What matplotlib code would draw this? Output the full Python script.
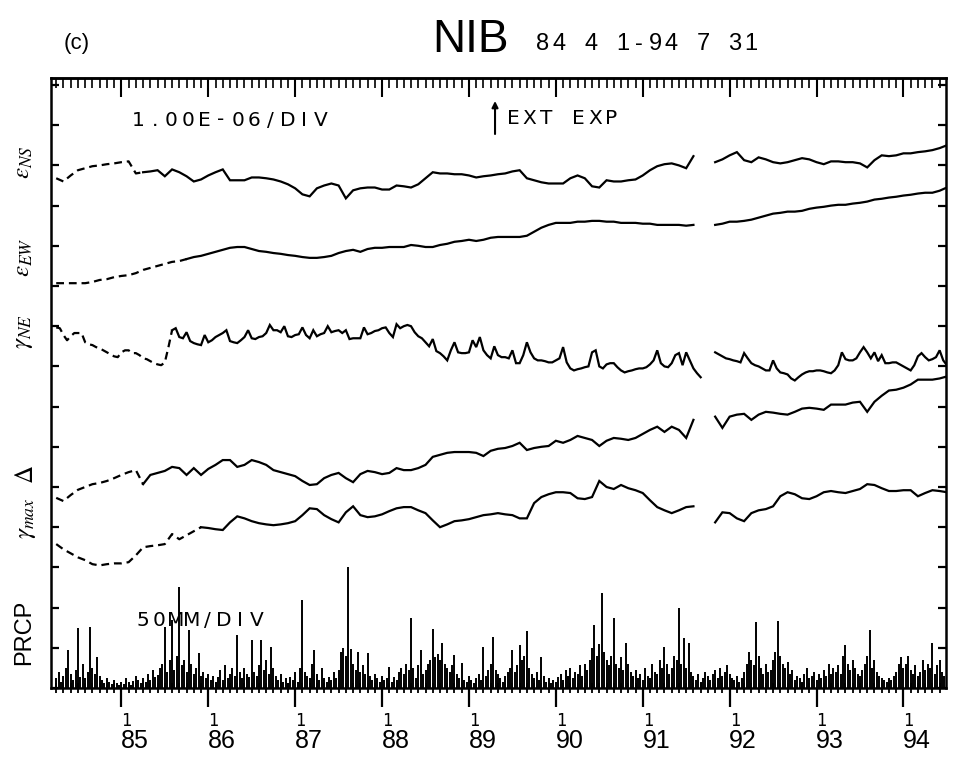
import numpy as np
import matplotlib
matplotlib.use("Agg")
import matplotlib.pyplot as plt
from matplotlib.ticker import MultipleLocator, FixedLocator

plt.rcParams['mathtext.fontset'] = 'stix'
plt.rcParams['font.family'] = ['DejaVu Sans']

# ---------------------------------------------------------------------------
# Station NIB, 1 Apr 1984 - 31 Jul 1994.  Strain samples (1e-6), each series
# relative to its own reference level; NaN = recording gap.
# ---------------------------------------------------------------------------
T0 = 84.25  # 1 April 1984 in decimal years (19xx)

# monthly samples
eps_ns = [
    -0.32, -0.40, -0.25, -0.12, -0.07, -0.02, 0.00, 0.03, 0.05, 0.08, 0.10, -0.20,
    -0.17, -0.15, -0.12, -0.27, -0.10, -0.17, -0.27, -0.40, -0.35, -0.25, -0.17, -0.10,
    -0.37, -0.37, -0.37, -0.30, -0.30, -0.32, -0.35, -0.40, -0.47, -0.57, -0.72, -0.77,
    -0.57, -0.50, -0.45, -0.50, -0.82, -0.62, -0.57, -0.55, -0.55, -0.60, -0.60, -0.50,
    -0.52, -0.55, -0.47, -0.32, -0.17, -0.20, -0.20, -0.22, -0.22, -0.25, -0.30, -0.27,
    -0.25, -0.22, -0.20, -0.15, -0.12, -0.32, -0.37, -0.42, -0.45, -0.45, -0.45, -0.32,
    -0.25, -0.32, -0.52, -0.55, -0.37, -0.40, -0.40, -0.37, -0.35, -0.25, -0.12, -0.02,
    0.03, 0.05, 0.00, -0.07, 0.23, np.nan, np.nan, 0.08, 0.15, 0.25, 0.33, 0.13,
    0.08, 0.20, 0.15, 0.08, 0.05, 0.08, 0.13, 0.18, 0.15, 0.08, 0.03, 0.10,
    0.10, 0.08, 0.08, 0.05, -0.05, 0.13, 0.25, 0.23, 0.25, 0.30, 0.30, 0.33,
    0.35, 0.38, 0.43, 0.50,
]

eps_ew = [
    0.07, 0.07, 0.07, 0.07, 0.07, 0.10, 0.15, 0.17, 0.22, 0.25, 0.27, 0.32,
    0.40, 0.45, 0.50, 0.55, 0.60, 0.62, 0.67, 0.72, 0.75, 0.80, 0.85, 0.90,
    0.95, 0.97, 0.97, 0.92, 0.87, 0.85, 0.82, 0.80, 0.77, 0.75, 0.72, 0.70,
    0.70, 0.72, 0.75, 0.82, 0.87, 0.90, 0.85, 0.92, 0.95, 0.95, 0.97, 0.97,
    0.97, 1.02, 1.00, 0.97, 0.97, 1.02, 1.05, 1.10, 1.12, 1.15, 1.12, 1.15,
    1.20, 1.22, 1.22, 1.22, 1.22, 1.25, 1.35, 1.45, 1.52, 1.57, 1.57, 1.57,
    1.60, 1.60, 1.62, 1.62, 1.60, 1.60, 1.57, 1.57, 1.57, 1.55, 1.55, 1.52,
    1.52, 1.52, 1.52, 1.50, 1.52, np.nan, np.nan, 1.52, 1.55, 1.60, 1.60, 1.62,
    1.65, 1.70, 1.75, 1.80, 1.82, 1.85, 1.85, 1.87, 1.92, 1.95, 1.97, 2.00,
    2.02, 2.02, 2.05, 2.07, 2.10, 2.15, 2.17, 2.20, 2.22, 2.25, 2.27, 2.30,
    2.32, 2.32, 2.37, 2.45,
]

# half-monthly samples (shear strain is much spikier)
gam_ne = [
    -0.03, -0.05, -0.22, -0.35, -0.25, -0.17, -0.17, -0.17, -0.40, -0.45,
    -0.47, -0.52, -0.55, -0.60, -0.65, -0.70, -0.75, -0.77, -0.65, -0.60,
    -0.60, -0.67, -0.67, -0.72, -0.80, -0.82, -0.87, -0.92, -0.95, -0.97,
    -0.90, -0.52, -0.10, -0.05, -0.27, -0.30, -0.15, -0.37, -0.42, -0.45,
    -0.47, -0.22, -0.40, -0.35, -0.27, -0.22, -0.17, -0.10, -0.37, -0.40,
    -0.42, -0.35, -0.27, -0.10, -0.30, -0.32, -0.27, -0.25, -0.17, 0.03,
    -0.10, -0.10, -0.15, 0.00, -0.25, -0.27, -0.22, -0.20, -0.03, -0.22,
    -0.30, -0.10, -0.25, -0.20, -0.17, 0.00, -0.15, -0.12, -0.10, -0.17,
    -0.10, -0.32, -0.30, -0.30, -0.30, -0.03, -0.20, -0.17, -0.12, -0.10,
    -0.05, -0.03, -0.17, -0.27, 0.05, -0.05, 0.00, 0.03, 0.00, -0.15,
    -0.25, -0.30, -0.40, -0.50, -0.32, -0.62, -0.67, -0.75, -0.85, -0.60,
    -0.40, -0.65, -0.67, -0.67, -0.65, -0.35, -0.52, -0.27, -0.60, -0.72,
    -0.80, -0.50, -0.72, -0.77, -0.77, -0.80, -0.60, -0.92, -0.92, -0.72,
    -0.40, -0.65, -0.80, -0.85, -0.85, -0.87, -0.90, -0.90, -0.85, -0.80,
    -0.52, -0.90, -1.05, -1.10, -1.07, -1.05, -1.02, -1.00, -0.65, -0.60,
    -1.00, -1.05, -0.95, -0.92, -0.92, -1.02, -1.10, -1.15, -1.12, -1.10,
    -1.07, -1.05, -1.05, -1.02, -0.95, -0.85, -0.60, -0.92, -1.00, -1.02,
    -0.92, -0.72, -0.67, -0.97, -0.65, -0.85, -1.05, -1.17, -1.27, np.nan,
    np.nan, np.nan, -0.65, -0.70, -0.75, -0.80, -0.82, -0.85, -0.87, -0.90,
    -0.67, -0.80, -0.92, -0.97, -1.00, -1.05, -1.10, -1.10, -0.85, -1.05,
    -1.15, -1.17, -1.20, -1.30, -1.35, -1.27, -1.20, -1.15, -1.12, -1.12,
    -1.10, -1.10, -1.12, -1.15, -1.17, -1.10, -0.97, -0.65, -0.82, -0.85,
    -0.85, -0.80, -0.65, -0.52, -0.65, -0.80, -0.65, -0.87, -0.72, -0.92,
    -0.92, -0.90, -0.90, -0.95, -1.00, -1.05, -1.10, -0.97, -0.75, -0.67,
    -0.77, -0.85, -0.82, -0.77, -0.60, -0.85, -0.97, -0.92,
]

delta = [
    -0.27, -0.35, -0.20, -0.07, 0.00, 0.07, 0.10, 0.15, 0.22, 0.30, 0.37, 0.42,
    0.07, 0.30, 0.35, 0.40, 0.50, 0.47, 0.30, 0.47, 0.30, 0.45, 0.55, 0.67,
    0.67, 0.50, 0.55, 0.67, 0.62, 0.55, 0.42, 0.37, 0.32, 0.27, 0.15, 0.05,
    0.07, 0.22, 0.30, 0.35, 0.22, 0.12, 0.32, 0.40, 0.37, 0.32, 0.35, 0.47,
    0.42, 0.42, 0.47, 0.55, 0.75, 0.80, 0.85, 0.87, 0.87, 0.87, 0.85, 0.77,
    0.90, 0.95, 0.97, 1.02, 1.10, 0.92, 0.97, 1.00, 1.02, 1.15, 1.10, 1.17,
    1.27, 1.22, 1.17, 1.02, 1.15, 1.22, 1.20, 1.17, 1.22, 1.32, 1.42, 1.50,
    1.37, 1.50, 1.42, 1.22, 1.67, np.nan, np.nan, 1.75, 1.47, 1.75, 1.80, 1.82,
    1.67, 1.80, 1.87, 1.85, 1.82, 1.80, 1.87, 1.95, 1.97, 1.95, 1.92, 2.05,
    2.05, 2.05, 2.10, 2.12, 1.87, 2.12, 2.27, 2.40, 2.42, 2.47, 2.55, 2.67,
    2.67, 2.67, 2.70, 2.75,
]

gam_max = [
    -0.42, -0.55, -0.65, -0.75, -0.82, -0.92, -0.95, -0.92, -0.90, -0.90, -0.87, -0.70,
    -0.50, -0.47, -0.45, -0.42, -0.17, -0.30, -0.20, -0.10, 0.00, -0.02, -0.05, -0.07,
    0.12, 0.27, 0.22, 0.15, 0.10, 0.07, 0.05, 0.07, 0.10, 0.15, 0.30, 0.47,
    0.45, 0.30, 0.20, 0.12, 0.37, 0.52, 0.30, 0.25, 0.27, 0.32, 0.40, 0.47,
    0.50, 0.50, 0.42, 0.35, 0.17, 0.00, 0.07, 0.15, 0.17, 0.20, 0.25, 0.30,
    0.32, 0.35, 0.32, 0.30, 0.22, 0.22, 0.60, 0.75, 0.82, 0.87, 0.87, 0.85,
    0.72, 0.70, 0.75, 1.15, 1.00, 0.95, 1.05, 0.97, 0.92, 0.85, 0.67, 0.50,
    0.42, 0.35, 0.42, 0.50, 0.52, np.nan, np.nan, 0.12, 0.37, 0.35, 0.22, 0.15,
    0.35, 0.42, 0.45, 0.52, 0.77, 0.87, 0.82, 0.72, 0.70, 0.77, 0.87, 0.90,
    0.87, 0.85, 0.90, 0.95, 1.07, 1.05, 0.97, 0.90, 0.90, 0.92, 0.92, 0.77,
    0.85, 0.92, 0.90, 0.87,
]

# Precipitation (mm), one value per 10-day period from 1 Apr 1984
prcp = [
    12, 20, 8, 15, 25, 47, 18, 10, 22, 75, 14, 30, 12, 20, 76, 25, 18, 38,
    15, 10, 6, 12, 8, 5, 10, 6, 4, 8, 5, 12, 7, 4, 9, 15, 10, 6,
    12, 8, 18, 10, 22, 14, 16, 25, 30, 76, 20, 35, 85, 22, 40, 126, 28, 35,
    20, 72, 30, 18, 25, 43, 15, 20, 12, 18, 10, 15, 8, 14, 22, 10, 28, 12,
    18, 25, 15, 66, 20, 12, 25, 18, 14, 60, 20, 15, 28, 60, 22, 35, 18, 51,
    25, 15, 10, 18, 8, 12, 6, 14, 10, 20, 8, 25, 110, 20, 15, 12, 30, 47,
    18, 10, 25, 12, 8, 14, 10, 20, 12, 22, 45, 50, 40, 150, 48, 30, 22, 45,
    20, 28, 18, 43, 15, 10, 18, 12, 8, 15, 10, 12, 26, 8, 14, 10, 20, 25,
    18, 30, 22, 87, 25, 12, 28, 47, 18, 22, 30, 35, 73, 38, 42, 35, 56, 30,
    25, 20, 28, 41, 18, 12, 31, 10, 8, 15, 10, 6, 12, 18, 10, 51, 15, 22,
    30, 63, 22, 18, 12, 8, 15, 20, 25, 47, 20, 28, 53, 35, 40, 71, 25, 18,
    12, 20, 10, 38, 15, 8, 12, 6, 10, 8, 14, 18, 10, 22, 15, 25, 12, 20,
    18, 28, 15, 30, 22, 35, 50, 78, 40, 55, 118, 45, 35, 28, 40, 87, 30, 25,
    38, 22, 56, 30, 20, 15, 22, 12, 18, 10, 25, 15, 12, 30, 20, 18, 35, 25,
    51, 30, 18, 25, 40, 35, 100, 30, 62, 25, 56, 20, 15, 10, 18, 8, 12, 20,
    15, 10, 18, 22, 12, 25, 15, 20, 28, 18, 12, 10, 15, 8, 12, 20, 30, 45,
    35, 28, 82, 40, 25, 18, 30, 20, 22, 35, 45, 83, 40, 30, 25, 32, 18, 22,
    10, 15, 12, 8, 18, 25, 12, 15, 20, 10, 18, 12, 22, 15, 30, 18, 25, 20,
    28, 18, 40, 53, 30, 22, 35, 25, 18, 15, 22, 30, 40, 72, 25, 35, 20, 15,
    12, 10, 8, 12, 10, 15, 20, 30, 38, 25, 30, 40, 22, 18, 28, 15, 20, 35,
    22, 30, 25, 56, 18, 28, 35, 20, 15, 25, 18, 12,
]

years = list(range(85, 95))
ext_exp_time = 89.30          # external experiment marker
strain_per_div = 1.0          # 1.00E-06 per division
prcp_per_div = 50.0           # 50 mm per division

# ---------------------------------------------------------------------------
W, H = 960, 760
FRAME_TOP = 78
fig = plt.figure(figsize=(W / 100, H / 100), dpi=100)
ax = fig.add_axes([51 / W, 1 - 688 / H, (946 - 51) / W, (688 - FRAME_TOP) / H])
ax.set_xlim(84.19, 94.49)
ax.set_ylim(0, (688 - FRAME_TOP) / 40.2)

t_month = T0 + np.arange(len(eps_ns)) / 12.0
t_half = T0 + np.arange(len(gam_ne)) / 24.0
t_prcp = T0 + np.arange(len(prcp)) / 36.0

# trace: times, values, base level (divisions), end of sparse early record
traces = [
    (t_month, eps_ns, 13, 85.20),
    (t_month, eps_ew, 10, 85.75),
    (t_half, gam_ne, 9, 85.55),
    (t_month, delta, 5, 85.20),
    (t_month, gam_max, 4, 85.90),
]
LW = 1.6
for tt, vals, base, t_sparse in traces:
    y = base + np.asarray(vals, dtype=float) / strain_per_div
    i = int(np.searchsorted(tt, t_sparse))
    ax.plot(tt[:i + 1], y[:i + 1], color='k', lw=LW,
            ls=(0, (3.5, 2.2)), solid_capstyle='butt')
    ax.plot(tt[i:], y[i:], color='k', lw=LW, solid_joinstyle='miter')

ax.vlines(t_prcp, 0, np.asarray(prcp) / prcp_per_div, color='k', lw=1.4)

# frame
for side in ('left', 'right', 'top', 'bottom'):
    ax.spines[side].set_linewidth(1.8)

ax.xaxis.set_major_locator(FixedLocator(years))
ax.xaxis.set_minor_locator(MultipleLocator(1 / 12))
ax.tick_params(axis='x', which='major', direction='out', length=14, width=1.6,
               bottom=True, top=False, labelbottom=False)
ax.tick_params(axis='x', which='minor', direction='inout', length=7, width=1.3,
               bottom=True, top=False)
ax.yaxis.set_major_locator(MultipleLocator(1))
ax.tick_params(axis='y', which='major', direction='in', length=6, width=1.6,
               left=True, right=True, labelleft=False)

# ruler along the top: monthly ticks, longer ones at each new year
top = ax.secondary_xaxis('top')
top.xaxis.set_major_locator(FixedLocator(years))
top.xaxis.set_minor_locator(MultipleLocator(1 / 12))
top.tick_params(which='major', direction='in', length=14, width=1.5, labeltop=False)
top.tick_params(which='minor', direction='in', length=7, width=1.2)
top.spines['top'].set_linewidth(1.8)

# year labels
for yr in years:
    ax.annotate('1', xy=(yr, 0), xycoords=('data', 'axes fraction'),
                xytext=(3.6, -23.8), textcoords='offset points',
                ha='center', va='center', fontsize=12, family='DejaVu Sans Mono')
    ax.annotate(str(yr), xy=(yr, 0), xycoords=('data', 'axes fraction'),
                xytext=(9.8, -38.2), textcoords='offset points',
                ha='center', va='center', fontsize=18, family='Liberation Sans')

# EXT EXP marker
ax.annotate('', xy=(ext_exp_time, (688 - 101) / 40.2),
            xytext=(ext_exp_time, (688 - 134) / 40.2),
            arrowprops=dict(arrowstyle='-|>', lw=1.5, color='k',
                            mutation_scale=9, shrinkA=0, shrinkB=0))


def spaced(s, x0, y, pitch, **kw):
    for i, ch in enumerate(s):
        if ch != ' ':
            fig.text((x0 + i * pitch) / W, 1 - y / H, ch,
                     ha='center', va='center', **kw)


plot_font = dict(fontsize=14.5, family='DejaVu Sans')
spaced('1.00E-06/DIV', 138, 120, 16.6, **plot_font)
spaced('EXT EXP', 513, 118, 16.4, **plot_font)
spaced('50MM/DIV', 143, 620, 16.2, **plot_font)

# titles
fig.text(77 / W, 1 - 43 / H, '(c)', ha='center', va='center', fontsize=16,
         family='Liberation Sans')
fig.text(470 / W, 1 - 40 / H, 'NIB', ha='center', va='center', fontsize=33,
         family='Liberation Sans')
spaced('84 4 1-94 7 31', 543, 44, 16.0, fontsize=17, family='Liberation Sans')

# row labels
row_labels = [
    (r'$\varepsilon_{NS}$', 23, 162),
    (r'$\varepsilon_{EW}$', 23, 257),
    (r'$\gamma_{NE}$', 23, 331),
    (r'$\Delta$', 26, 475),
    (r'$\gamma_{max}$', 26, 518),
]
for txt, x, y in row_labels:
    fig.text(x / W, 1 - y / H, txt, rotation=90, ha='center', va='center',
             fontsize=18)
fig.text(24 / W, 1 - 632 / H, 'PRCP', rotation=90, ha='center', va='center',
         fontsize=17, family='Liberation Sans')

fig.savefig('out.png', dpi=100, facecolor='white')
